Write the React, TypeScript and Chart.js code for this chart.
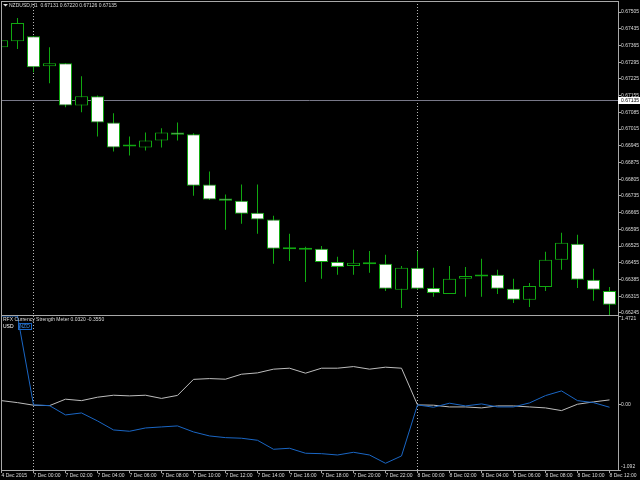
import React, { useEffect, useRef } from 'react';
import { Chart, registerables } from 'chart.js';

Chart.register(...registerables);

// ---------- data ----------
const candleTimes = [
  '4 Dec 22:00', '4 Dec 23:00',
  '7 Dec 00:00', '7 Dec 01:00', '7 Dec 02:00', '7 Dec 03:00', '7 Dec 04:00', '7 Dec 05:00',
  '7 Dec 06:00', '7 Dec 07:00', '7 Dec 08:00', '7 Dec 09:00', '7 Dec 10:00', '7 Dec 11:00',
  '7 Dec 12:00', '7 Dec 13:00', '7 Dec 14:00', '7 Dec 15:00', '7 Dec 16:00', '7 Dec 17:00',
  '7 Dec 18:00', '7 Dec 19:00', '7 Dec 20:00', '7 Dec 21:00', '7 Dec 22:00', '7 Dec 23:00',
  '8 Dec 00:00', '8 Dec 01:00', '8 Dec 02:00', '8 Dec 03:00', '8 Dec 04:00', '8 Dec 05:00',
  '8 Dec 06:00', '8 Dec 07:00', '8 Dec 08:00', '8 Dec 09:00', '8 Dec 10:00', '8 Dec 11:00',
  '8 Dec 12:00',
];

const openP = [0.67358, 0.67383, 0.67404, 0.67278, 0.67291, 0.67114, 0.67152, 0.67043, 0.66942, 0.66938,
  0.66967, 0.67001, 0.66993, 0.66783, 0.66724, 0.66715, 0.66665, 0.66636, 0.66516, 0.66510,
  0.66514, 0.66459, 0.66442, 0.66449, 0.66451, 0.66342, 0.66434, 0.66350, 0.66325, 0.66388,
  0.66398, 0.66405, 0.66346, 0.66300, 0.66354, 0.66468, 0.66535, 0.66384, 0.66337];
const highP = [0.67438, 0.67480, 0.67404, 0.67358, 0.67291, 0.67236, 0.67156, 0.67081, 0.66984, 0.67001,
  0.67018, 0.67043, 0.66997, 0.66837, 0.66741, 0.66783, 0.66783, 0.66652, 0.66577, 0.66522,
  0.66526, 0.66480, 0.66510, 0.66505, 0.66489, 0.66442, 0.66505, 0.66434, 0.66442, 0.66438,
  0.66472, 0.66426, 0.66388, 0.66371, 0.66501, 0.66581, 0.66573, 0.66430, 0.66354];
const lowP = [0.67354, 0.67350, 0.67253, 0.67207, 0.67106, 0.67085, 0.66984, 0.66921, 0.66904, 0.66925,
  0.66938, 0.66967, 0.66736, 0.66718, 0.66594, 0.66619, 0.66577, 0.66451, 0.66463, 0.66375,
  0.66388, 0.66405, 0.66405, 0.66413, 0.66337, 0.66266, 0.66342, 0.66313, 0.66325, 0.66313,
  0.66313, 0.66325, 0.66287, 0.66270, 0.66337, 0.66426, 0.66350, 0.66296, 0.66237];
const closeP = [0.67387, 0.67459, 0.67274, 0.67291, 0.67114, 0.67152, 0.67043, 0.66938, 0.66943, 0.66967,
  0.67001, 0.66991, 0.66778, 0.66720, 0.66715, 0.66661, 0.66636, 0.66514, 0.66512, 0.66518,
  0.66459, 0.66438, 0.66455, 0.66451, 0.66346, 0.66434, 0.66346, 0.66329, 0.66388, 0.66400,
  0.66403, 0.66346, 0.66300, 0.66358, 0.66468, 0.66539, 0.66384, 0.66342, 0.66279];

const usdStrength = [0.063, 0.030, -0.013, -0.020, 0.087, 0.063, 0.120, 0.153, 0.142, 0.153,
  0.100, 0.150, 0.417, 0.430, 0.420, 0.503, 0.525, 0.587, 0.603, 0.520,
  0.603, 0.603, 0.630, 0.587, 0.620, 0.603, -0.008, -0.013, -0.042, -0.042,
  -0.058, -0.025, -0.025, -0.042, -0.058, -0.103, 0.003, 0.042, 0.075];
const nzdStrength = [1.4721, 1.4721, -0.008, -0.020, -0.175, -0.142, -0.275, -0.425, -0.447, -0.392,
  -0.375, -0.358, -0.458, -0.525, -0.553, -0.563, -0.597, -0.747, -0.730, -0.813,
  -0.820, -0.842, -0.797, -0.842, -0.980, -0.858, -0.008, -0.047, 0.020, -0.025,
  0.008, -0.042, -0.042, 0.025, 0.147, 0.225, 0.063, 0.030, -0.047];

const priceTicks = [0.67505, 0.67435, 0.67365, 0.67295, 0.67225, 0.67155, 0.67085, 0.67015, 0.66945,
  0.66875, 0.66805, 0.66735, 0.66665, 0.66595, 0.66525, 0.66455, 0.66385, 0.66315, 0.66245];
const indicatorTicks = [1.4721, 0, -1.092];
const indicatorTickLabels = ['1.4721', '0.00', '-1.092'];
const xTickIndex = [0, 2, 4, 6, 8, 10, 12, 14, 16, 18, 20, 22, 24, 26, 28, 30, 32, 34, 36, 38];
const xTickLabels = ['4 Dec 2015', '7 Dec 00:00', '7 Dec 02:00', '7 Dec 04:00', '7 Dec 06:00',
  '7 Dec 08:00', '7 Dec 10:00', '7 Dec 12:00', '7 Dec 14:00', '7 Dec 16:00', '7 Dec 18:00',
  '7 Dec 20:00', '7 Dec 22:00', '8 Dec 00:00', '8 Dec 02:00', '8 Dec 04:00', '8 Dec 06:00',
  '8 Dec 08:00', '8 Dec 10:00', '8 Dec 12:00'];
const separatorIndex = [2, 26];
const bidPrice = 0.67135;
const headerText = 'NZDUSD,H1  0.67131 0.67220 0.67126 0.67135';
const indicatorTitle = 'RFX Currency Strength Meter 0.0320 -0.3550';
const seriesNames = ['USD', 'NZD'];

// ---------- styles ----------
const GREEN = '#10a810';
const AXIS = '#a8a8a8';
const TEXT = '#dcdcdc';
const USD_COLOR = '#bdbdbd';
const NZD_COLOR = '#1a66c4';
const FONT = 'Liberation Sans';
const X_MIN = -0.03125;
const X_MAX = 38.53125;

function xScaleBase(display: boolean) {
  return {
    type: 'linear',
    min: X_MIN,
    max: X_MAX,
    offset: false,
    display,
  } as any;
}

function drawSeparators(chart: any) {
  const { ctx, chartArea: a, scales } = chart;
  ctx.save();
  ctx.strokeStyle = '#b8b8b8';
  ctx.lineWidth = 1;
  ctx.setLineDash([1, 2]);
  for (const idx of separatorIndex) {
    const x = Math.floor(scales.x.getPixelForValue(idx)) + 0.5;
    ctx.beginPath();
    ctx.moveTo(x, a.top);
    ctx.lineTo(x, a.bottom);
    ctx.stroke();
  }
  ctx.restore();
}

function fillBlack(chart: any) {
  const { ctx, width, height } = chart;
  ctx.save();
  ctx.fillStyle = '#000';
  ctx.fillRect(0, 0, width, height);
  ctx.restore();
}

export default function App() {
  const topRef = useRef<HTMLCanvasElement>(null);
  const botRef = useRef<HTMLCanvasElement>(null);

  useEffect(() => {
    const bodyData = candleTimes.map((_, i) => ({
      x: i,
      y: [Math.min(openP[i], closeP[i]), Math.max(openP[i], closeP[i])],
    }));
    const wickData = candleTimes.map((_, i) => ({ x: i, y: [lowP[i], highP[i]] }));
    const bodyColors = candleTimes.map((_, i) => (closeP[i] < openP[i] ? '#ffffff' : '#000000'));

    const topPlugin = {
      id: 'topDeco',
      beforeDraw: fillBlack,
      beforeDatasetsDraw(chart: any) {
        drawSeparators(chart);
        const { ctx, chartArea: a, scales } = chart;
        const y = Math.floor(scales.y.getPixelForValue(bidPrice)) + 0.5;
        ctx.save();
        ctx.strokeStyle = '#787888';
        ctx.lineWidth = 1;
        ctx.beginPath();
        ctx.moveTo(a.left, y);
        ctx.lineTo(a.right, y);
        ctx.stroke();
        ctx.restore();
      },
      afterDraw(chart: any) {
        const { ctx, chartArea: a, scales } = chart;
        ctx.save();
        ctx.strokeStyle = AXIS;
        ctx.lineWidth = 1;
        ctx.strokeRect(a.left + 0.5, a.top + 0.5, a.right - a.left, a.bottom - a.top);
        // header
        ctx.fillStyle = TEXT;
        ctx.beginPath();
        ctx.moveTo(3, 4);
        ctx.lineTo(8, 4);
        ctx.lineTo(5.5, 6.5);
        ctx.closePath();
        ctx.fill();
        ctx.font = `5px "${FONT}"`;
        ctx.textBaseline = 'middle';
        ctx.textAlign = 'left';
        ctx.fillText(headerText, 9, 5.5);
        // bid price box
        const y = Math.floor(scales.y.getPixelForValue(bidPrice)) + 0.5;
        ctx.fillStyle = '#ffffff';
        ctx.fillRect(a.right, y - 3.5, 22, 7);
        ctx.fillStyle = '#000000';
        ctx.fillText(bidPrice.toFixed(5), a.right + 3, y);
        ctx.restore();
      },
    };

    const top = new Chart(topRef.current as HTMLCanvasElement, {
      type: 'bar',
      data: {
        datasets: [
          {
            label: 'body',
            data: bodyData as any,
            backgroundColor: bodyColors,
            borderColor: GREEN,
            borderWidth: 1,
            borderSkipped: false,
            barThickness: 13,
            minBarLength: 2,
            inflateAmount: 0,
            grouped: false,
            order: 0,
          } as any,
          {
            label: 'wick',
            data: wickData as any,
            backgroundColor: GREEN,
            borderWidth: 0,
            barThickness: 1,
            inflateAmount: 0,
            grouped: false,
            order: 1,
          } as any,
        ],
      },
      options: {
        responsive: false,
        animation: false,
        devicePixelRatio: 1,
        events: [],
        layout: { padding: { left: 1, top: 1, right: 0, bottom: 0 } },
        plugins: { legend: { display: false }, tooltip: { enabled: false } },
        scales: {
          x: xScaleBase(false),
          y: {
            type: 'linear',
            position: 'right',
            min: 0.662366,
            max: 0.675512,
            afterBuildTicks: (s: any) => {
              s.ticks = priceTicks.map((v) => ({ value: v }));
            },
            afterFit: (s: any) => {
              s.width = 22;
              s.paddingTop = 0;
              s.paddingBottom = 0;
            },
            grid: { drawOnChartArea: false, drawTicks: true, tickLength: 3, color: AXIS },
            border: { display: false },
            ticks: {
              autoSkip: false,
              padding: 0,
              color: TEXT,
              font: { family: FONT, size: 5 },
              callback: (v: any) => Number(v).toFixed(5),
            },
          } as any,
        },
      } as any,
      plugins: [topPlugin],
    });

    const botPlugin = {
      id: 'botDeco',
      beforeDraw: fillBlack,
      beforeDatasetsDraw: drawSeparators,
      afterDraw(chart: any) {
        const { ctx, chartArea: a, scales } = chart;
        ctx.save();
        ctx.strokeStyle = AXIS;
        ctx.lineWidth = 1;
        ctx.strokeRect(a.left + 0.5, 0.5, a.right - a.left, a.bottom);
        ctx.font = `5px "${FONT}"`;
        ctx.textAlign = 'left';
        ctx.textBaseline = 'middle';
        ctx.fillStyle = TEXT;
        ctx.fillText(indicatorTitle, 3, 4.5);
        // legend
        ctx.fillStyle = '#ffffff';
        ctx.fillText(seriesNames[0], 3, 11.5);
        ctx.strokeStyle = NZD_COLOR;
        ctx.strokeRect(18.5, 8.5, 13, 6);
        ctx.fillStyle = '#3d8ee6';
        ctx.fillText(seriesNames[1], 19.5, 11.5);
        // y labels
        ctx.fillStyle = TEXT;
        indicatorTicks.forEach((v, i) => {
          const y = scales.y.getPixelForValue(v);
          let yy = y;
          if (i === 0) { ctx.textBaseline = 'top'; yy = y + 0.5; }
          else if (i === indicatorTicks.length - 1) { ctx.textBaseline = 'bottom'; yy = y - 0.5; }
          else { ctx.textBaseline = 'middle'; }
          ctx.fillText(indicatorTickLabels[i], a.right + 3, yy);
        });
        ctx.restore();
      },
    };

    const bot = new Chart(botRef.current as HTMLCanvasElement, {
      type: 'line',
      data: {
        datasets: [
          {
            label: seriesNames[1],
            data: nzdStrength.map((v, i) => ({ x: i, y: v })),
            borderColor: NZD_COLOR,
            borderWidth: 1,
            pointRadius: 0,
            tension: 0,
            order: 0,
          },
          {
            label: seriesNames[0],
            data: usdStrength.map((v, i) => ({ x: i, y: v })),
            borderColor: USD_COLOR,
            borderWidth: 1,
            pointRadius: 0,
            tension: 0,
            order: 1,
          },
        ],
      },
      options: {
        responsive: false,
        animation: false,
        devicePixelRatio: 1,
        events: [],
        layout: { padding: { left: 1, top: 1, right: 0, bottom: 0 } },
        plugins: { legend: { display: false }, tooltip: { enabled: false } },
        scales: {
          x: {
            ...xScaleBase(true),
            position: 'bottom',
            afterBuildTicks: (s: any) => {
              s.ticks = xTickIndex.map((v) => ({ value: v }));
            },
            afterFit: (s: any) => {
              s.height = 10;
              s.paddingLeft = 0;
              s.paddingRight = 0;
            },
            grid: { drawOnChartArea: false, drawTicks: true, tickLength: 3, color: AXIS },
            border: { display: false },
            ticks: {
              autoSkip: false,
              maxRotation: 0,
              minRotation: 0,
              align: 'start',
              padding: 0,
              color: TEXT,
              font: { family: FONT, size: 5 },
              callback: (_v: any, i: number) => xTickLabels[i],
            },
          },
          y: {
            type: 'linear',
            position: 'right',
            min: -1.092,
            max: 1.4721,
            afterBuildTicks: (s: any) => {
              s.ticks = indicatorTicks.map((v) => ({ value: v }));
            },
            afterFit: (s: any) => {
              s.width = 22;
              s.paddingTop = 0;
              s.paddingBottom = 0;
            },
            grid: { drawOnChartArea: false, drawTicks: true, tickLength: 3, color: AXIS },
            border: { display: false },
            ticks: { display: false },
          },
        },
      } as any,
      plugins: [botPlugin],
    });

    return () => {
      top.destroy();
      bot.destroy();
    };
  }, []);

  return (
    <div style={{ position: 'absolute', left: 0, top: 0, width: 640, height: 480, background: '#000', overflow: 'hidden' }}>
      <canvas ref={topRef} width={640} height={315} style={{ position: 'absolute', left: 0, top: 0 }} />
      <canvas ref={botRef} width={640} height={165} style={{ position: 'absolute', left: 0, top: 315 }} />
    </div>
  );
}
